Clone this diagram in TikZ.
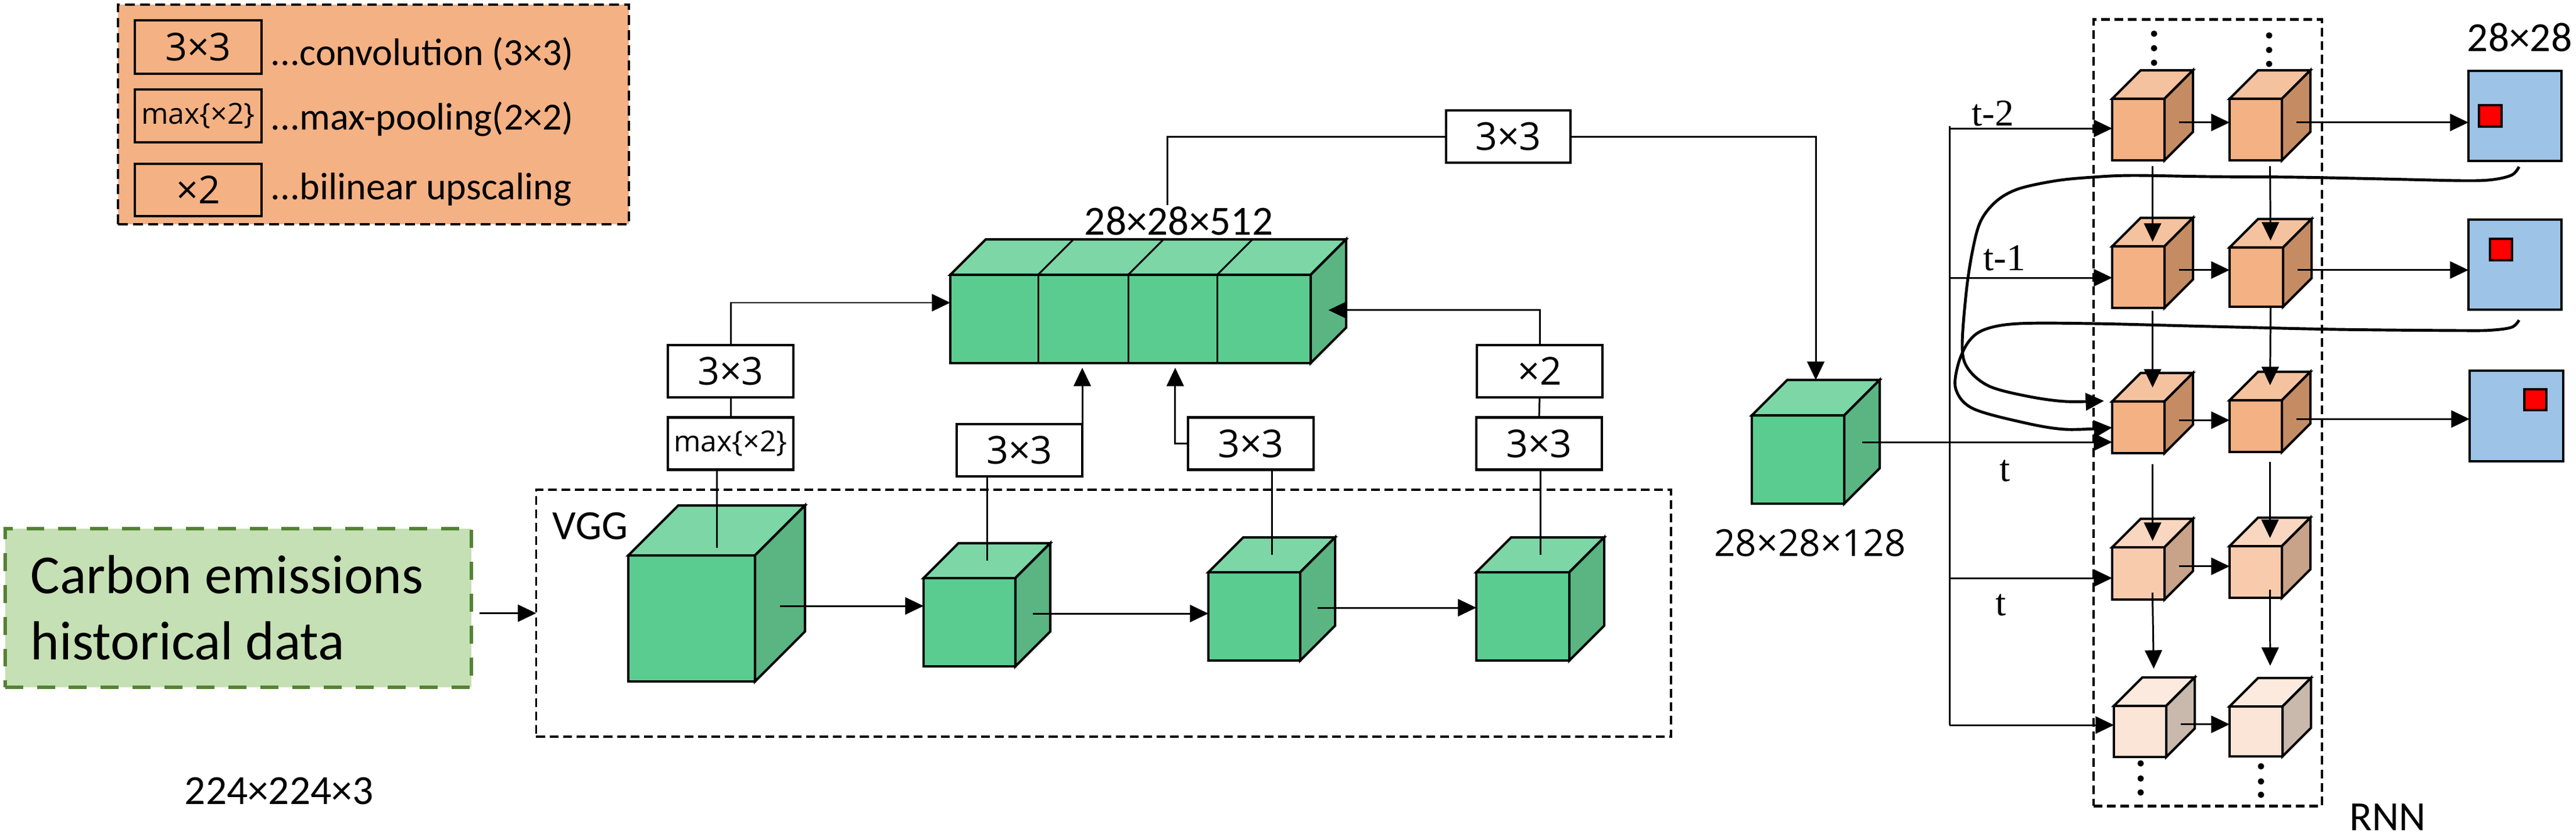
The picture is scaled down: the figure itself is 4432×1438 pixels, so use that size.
\documentclass[tikz,border=0pt]{standalone}
\usepackage{fontspec}
\setmainfont{Carlito}
\newfontfamily\osans{Open Sans}
\newfontfamily\tnr{Liberation Serif}
\usetikzlibrary{arrows.meta,calc}
\definecolor{legendfill}{HTML}{F4B183}
\definecolor{carbonfill}{HTML}{C5E0B4}
\definecolor{carbondraw}{HTML}{548235}
\definecolor{gfront}{HTML}{5BCC8F}
\definecolor{gtop}{HTML}{7DD6A6}
\definecolor{gside}{HTML}{5AB583}
\definecolor{oAf}{HTML}{F4B183}
\definecolor{oAt}{HTML}{F5C29F}
\definecolor{oAs}{HTML}{C58C64}
\definecolor{oBf}{HTML}{F8CBAD}
\definecolor{oBt}{HTML}{F9D6BF}
\definecolor{oBs}{HTML}{C8A38A}
\definecolor{oCf}{HTML}{FBE5D6}
\definecolor{oCt}{HTML}{FCEADF}
\definecolor{oCs}{HTML}{C9B8AC}
\definecolor{bluefill}{HTML}{9DC3E6}
\tikzset{
  conn/.style={line width=0.85pt},
  arr/.style={conn, -{Triangle[length=9pt,width=8.4pt]}},
  curvearr/.style={line width=1.4pt, -{Triangle[length=9pt,width=8.4pt]}},
  lbox/.style={draw, line width=1.3pt, fill=white, inner sep=0pt, outer sep=0pt,
    font=\osans\fontsize{18.8}{22}\selectfont, minimum width=2.16cm, minimum height=0.9cm},
  smallfont/.style={font=\osans\fontsize{14.2}{17}\selectfont},
  cubeface/.style={draw, line width=1.15pt, inner sep=0pt, outer sep=0pt},
  cubeline/.style={draw, line width=1.15pt},
  calib/.style={font=\fontsize{20.3}{24}\selectfont, inner sep=0.5pt},
  legtxt/.style={font=\fontsize{18.8}{22}\selectfont, inner sep=0pt},
  tlbl/.style={font=\tnr\fontsize{18.5}{22}\selectfont, inner sep=0pt},
  dashbox/.style={draw, inner sep=0pt, outer sep=0pt, line width=1.1pt, dash pattern=on 4.3pt off 2.3pt},
  plainsq/.style={draw, inner sep=0pt, outer sep=0pt, line width=1.15pt}
}
\newcommand{\mkcube}[9]{%
  \node[cubeface, fill=#7, minimum width={#4*0.01cm}, minimum height={#5*0.01cm}, anchor=north west] (#1) at (#2,#3) {};
  \filldraw[cubeline, fill=#8] (#2,#3) -- ({#2+#6},{#3-#6}) -- ({#2+#4+#6},{#3-#6}) -- ({#2+#4},#3) -- cycle;
  \filldraw[cubeline, fill=#9] ({#2+#4},#3) -- ({#2+#4+#6},{#3-#6}) -- ({#2+#4+#6},{#3+#5-#6}) -- ({#2+#4},{#3+#5}) -- cycle;
  \coordinate (#1-top) at ({#2+(#4+#6)/2},{#3-#6/2});
  \coordinate (#1-tb) at ({#2+#6+#4/2},{#3-#6});
  \coordinate (#1-side) at ({#2+#4+#6/2},{#3+#5/2-#6/4});
}
\begin{document}
\begin{tikzpicture}[x=0.01cm, y=-0.01cm]
\fill[white] (0,0) rectangle (4432,1438);
\useasboundingbox (0,0) rectangle (4432,1438);

% ---------- legend ----------
\node[draw, fill=legendfill, minimum width=8.79cm, minimum height=3.78cm, inner sep=0pt, outer sep=0pt,
  line width=1.15pt, dash pattern=on 4.8pt off 2.6pt] (legend) at (642.5,197) {};
\node[lbox, fill=none, minimum width=2.18cm, minimum height=0.92cm] (L1) at (341,81) {3×3};
\node[lbox, smallfont, fill=none, minimum width=2.18cm, minimum height=0.91cm] (L2) at (341,199.5) {max\{×2\}};
\node[lbox, fill=none, minimum width=2.18cm, minimum height=0.90cm] (L3) at (341,327) {×2};
\node[legtxt, anchor=base west] (T1) at (465,112) {...convolution (3×3)};
\node[legtxt, anchor=base west] (T2) at (465,223) {...max-pooling(2×2)};
\node[legtxt, anchor=base west] (T3) at (465,343) {...bilinear upscaling};

% ---------- input ----------
\node[draw=carbondraw, fill=carbonfill, line width=1.7pt, dash pattern=on 8.8pt off 6.8pt,
  minimum width=8.02cm, minimum height=2.73cm, inner sep=0pt, outer sep=0pt] (carbon) at (410,1046.5) {};
\node[anchor=base west, font=\fontsize{26.9}{32}\selectfont, inner sep=0pt] (ct1) at (52,1021) {Carbon emissions};
\node[anchor=base west, font=\fontsize{26.9}{32}\selectfont, inner sep=0pt] (ct2) at (52,1135) {historical data};
\node[calib, anchor=base] (l224) at (480,1384) {224×224×3};

% ---------- VGG ----------
\node[dashbox, minimum width=19.51cm, minimum height=4.25cm] (vgg) at (1898.5,1055.5) {};
\node[calib, anchor=base west] (vgglbl) at (948,928) {VGG};

\mkcube{c1}{1081}{956}{218}{217}{86}{gfront}{gtop}{gside}
\mkcube{c2}{1589}{995}{158}{152}{60}{gfront}{gtop}{gside}
\mkcube{c3}{2079}{985}{158}{152}{60}{gfront}{gtop}{gside}
\mkcube{c4}{2540}{985}{160}{152}{60}{gfront}{gtop}{gside}

% concatenated block
\mkcube{concat}{1635}{473}{620}{152}{61}{gfront}{gtop}{gside}
\foreach \xx in {1786,1941,2094}{
  \draw[conn] (\xx,473) -- (\xx,625);
  \draw[conn] (\xx,473) -- ({\xx+61},412);
}
\node[calib, anchor=base] (lbl512) at (2028,404) {28×28×512};

% middle cube
\mkcube{midc}{3014}{715}{159}{152}{61}{gfront}{gtop}{gside}
\node[font=\osans\fontsize{18.2}{22}\selectfont, anchor=base, inner sep=0pt] (l128) at (3114,957) {28×28×128};

% ---------- operation boxes ----------
\node[lbox] (A) at (1257,639) {3×3};
\node[lbox, smallfont] (B) at (1257,763.5) {max\{×2\}};
\node[lbox] (C) at (1754,775) {3×3};
\node[lbox] (D) at (2152,763.5) {3×3};
\node[lbox] (E) at (2649,639) {×2};
\node[lbox] (F) at (2648,763.5) {3×3};
\node[lbox, minimum width=2.14cm] (G) at (2595,235) {3×3};

% ---------- VGG connectors ----------
\draw[arr, shorten <=0.14cm] (vgg.west -| carbon.east) -- (vgg.west);
\draw[arr] (c1-side) -- (c1-side -| c2.west);
\draw[arr] (c2-side) -- (c2-side -| c3.west);
\draw[arr] (c3-side) -- (c3-side -| c4.west);

\draw[conn] (A.south) -- (B.north);
\draw[conn, shorten >=-0.3cm] (B.south -| c1-top) -- (c1-top);
\draw[conn] (C.south -| c2-top) -- (c2-top);
\draw[conn] (D.south -| c3-top) -- (c3-top);
\draw[conn] (E.south) -- (F.north);
\draw[conn] (F.south -| c4-top) -- (c4-top);

\draw[arr] (A.north) |- ([yshift=0.28cm]concat.west);
\draw[arr] (E.north) |- (concat-side);
\draw[arr, shorten >=0.08cm] (C.north east) -- (C.north east |- concat.south);
\coordinate (dturn) at ($(D.west)+(-22,0)$);
\draw[arr, shorten >=0.08cm] (D.west) -- (dturn) -- (dturn |- concat.south);

\draw[conn] (G.west) -| ([xshift=-0.2cm]lbl512.north);
\draw[arr] (G.east) -| (midc-top |- midc-tb);

% ---------- RNN ----------
\node[dashbox, line width=1.3pt, minimum width=3.93cm, minimum height=13.53cm] (rnn) at (3798.5,710.5) {};
\node[calib, anchor=base west] (rnnlbl) at (4040,1429) {RNN};

\mkcube{r11}{3634}{170}{90}{106}{49}{oAf}{oAt}{oAs}
\mkcube{r12}{3836}{170}{90}{106}{49}{oAf}{oAt}{oAs}
\mkcube{r21}{3634}{424}{90}{106}{49}{oAf}{oAt}{oAs}
\mkcube{r22}{3836}{426}{92}{102}{49}{oAf}{oAt}{oAs}
\mkcube{r31}{3634}{691}{90}{89}{49}{oAf}{oAt}{oAs}
\mkcube{r32}{3836}{689}{90}{89}{49}{oAf}{oAt}{oAs}
\mkcube{r41}{3634}{942}{90}{90}{49}{oBf}{oBt}{oBs}
\mkcube{r42}{3836}{940}{90}{89}{49}{oBf}{oBt}{oBs}
\mkcube{r51}{3637}{1215}{90}{88}{49}{oCf}{oCt}{oCs}
\mkcube{r52}{3836}{1216}{91}{86}{49}{oCf}{oCt}{oCs}

% dots
\foreach \px/\py in {3706/58, 3706/83, 3706/108, 3904/61, 3904/86, 3904/110,
                     3683/1314, 3683/1340, 3683/1364, 3890/1319, 3890/1345, 3890/1368}{
  \fill (\px,\py) circle[radius=5.5];
}

% bus
\coordinate (bus1) at (3354,221);
\coordinate (bus2) at (3354,478);
\coordinate (bus3) at (3354,761);
\coordinate (bus4) at (3354,995);
\coordinate (bus5) at (3354,1248);
\draw[conn] ([yshift=0.04cm]bus1) -- (bus5);
\draw[arr] (bus1) -- (bus1 -| r11.west);
\draw[arr] (bus2) -- (bus2 -| r21.west);
\draw[arr] (midc-side |- bus3) -- (bus3 -| r31.west);
\draw[arr] (bus4) -- (bus4 -| r41.west);
\draw[arr] (bus5) -- (bus5 -| r51.west);

\node[tlbl, anchor=base west] (tm2) at (3392,216) {t-2};
\node[tlbl, anchor=base west] (tm1) at (3412,465) {t-1};
\node[tlbl, anchor=base west] (tt1) at (3440,828) {t};
\node[tlbl, anchor=base west] (tt2) at (3433,1059) {t};

% row arrows
\draw[arr] (r11-side) -- (r11-side -| r12.west);
\draw[arr] (r21-side) -- (r21-side -| r22.west);
\draw[arr] (r31-side) -- (r31-side -| r32.west);
\draw[arr] (r41-side) -- (r41-side -| r42.west);
\draw[arr] (r51-side) -- (r51-side -| r52.west);

% vertical arrows
\draw[arr, shorten <=0.1cm, shorten >=0.08cm] (r11.south -| r11-top) -- (r21.north -| r21-top);
\draw[arr, shorten <=0.1cm, shorten >=0.12cm] (r12.south -| r12-top) -- (r22.north -| r22-top);
\draw[arr, shorten <=0.05cm, shorten >=0.24cm] (r21.south -| r21-top) -- (r31.north -| r31-top);
\draw[arr, shorten <=0.02cm, shorten >=0.26cm] (r22.south -| r22-top) -- (r32.north -| r32-top);
\draw[arr, shorten <=0.19cm, shorten >=0.11cm] (r31.south -| r31-top) -- (r41.north -| r41-top);
\draw[arr, shorten <=0.17cm, shorten >=0.14cm] (r32.south -| r32-top) -- (r42.north -| r42-top);
\draw[arr, shorten <=-0.12cm, shorten >=0.64cm] (r41.south -| r41-top) -- (r51.north -| r51-top);
\draw[arr, shorten <=-0.14cm, shorten >=0.70cm] (r42.south -| r42-top) -- (r52.north -| r52-top);

% output squares
\node[plainsq, fill=bluefill, minimum width=1.60cm, minimum height=1.55cm] (sq1) at (4327,199.5) {};
\node[plainsq, fill=bluefill, minimum width=1.60cm, minimum height=1.55cm] (sq2) at (4327,455.5) {};
\node[plainsq, fill=bluefill, minimum width=1.61cm, minimum height=1.56cm] (sq3) at (4329.5,716) {};
\node[plainsq, fill=red, line width=1pt, minimum width=0.39cm, minimum height=0.37cm] (rd1) at (4284.5,199.5) {};
\node[plainsq, fill=red, line width=1pt, minimum width=0.38cm, minimum height=0.37cm] (rd2) at (4303,429.5) {};
\node[plainsq, fill=red, line width=1pt, minimum width=0.38cm, minimum height=0.36cm] (rd3) at (4362,688) {};
\node[calib, anchor=base] (l28) at (4335,88) {28×28};

\draw[arr] (r12-side) -- (r12-side -| sq1.west);
\draw[arr] (r22-side) -- (r22-side -| sq2.west);
\draw[arr] (r32-side) -- (r32-side -| sq3.west);

% feedback curves
\draw[curvearr] plot[smooth, tension=0.55] coordinates {
  (4334,287) (4322,301) (4290,309) (4240,311) (4100,308) (3950,305) (3800,304) (3668,302)
  (3600,305) (3538,311) (3473,325) (3435,346) (3408,380) (3394,430) (3383,502) (3376,598)
  (3387,636) (3423,665) (3488,682) (3553,691) (3620,690)};
\draw[curvearr] plot[smooth, tension=0.55] coordinates {
  (4334,551) (4322,563) (4290,568) (4239,569) (4022,567) (3805,562) (3603,557) (3473,557)
  (3415,567) (3387,588) (3369,627) (3365,670) (3394,703) (3480,727) (3553,739) (3634,736)};
\end{tikzpicture}
\end{document}
